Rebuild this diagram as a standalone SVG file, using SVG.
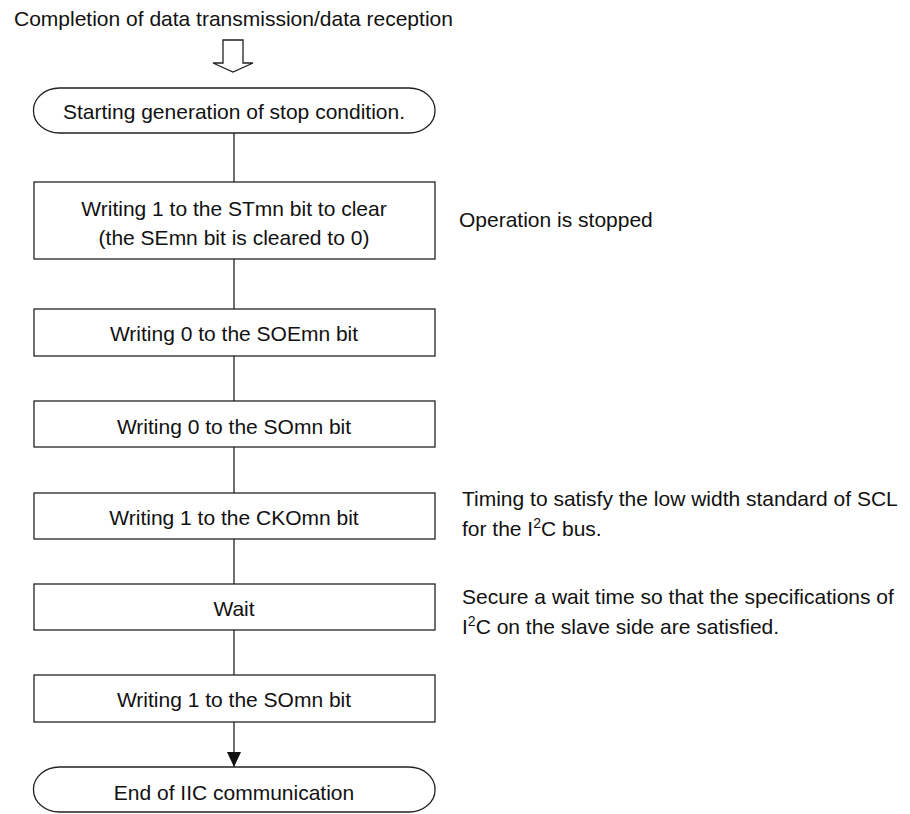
<svg xmlns="http://www.w3.org/2000/svg" width="910" height="814" viewBox="0 0 910 814">
<style>
text{font-family:"Liberation Sans",Arial,sans-serif;font-size:21px;fill:#111}
.c{text-anchor:middle}
.box{fill:#fff;stroke:#222;stroke-width:1.3}
.ln{stroke:#222;stroke-width:1.3;fill:none}
</style>
<defs>
<marker id="ah" markerWidth="15" markerHeight="14" refX="15" refY="7" orient="auto" markerUnits="userSpaceOnUse" viewBox="0 0 15 14">
<path d="M0,0 L15,7 L0,14 Z" fill="#111"/>
</marker>
</defs>
<rect width="910" height="814" fill="#fff"/>
<text id="title" x="14" y="26">Completion of data transmission/data reception</text>
<g id="connectors">
<path class="ln" d="M223,40 L243,40 L243,63 L253,63 L233,72 L213,63 L223,63 Z"/>
<line class="ln" x1="234" y1="133" x2="234" y2="182"/>
<line class="ln" x1="234" y1="259" x2="234" y2="309"/>
<line class="ln" x1="234" y1="356" x2="234" y2="401"/>
<line class="ln" x1="234" y1="447" x2="234" y2="493"/>
<line class="ln" x1="234" y1="539" x2="234" y2="584"/>
<line class="ln" x1="234" y1="630" x2="234" y2="675"/>
<line class="ln" x1="234" y1="722" x2="234" y2="767" marker-end="url(#ah)"/>
</g>
<g id="start">
<rect class="box" x="33.5" y="88" width="401.5" height="45" rx="26" ry="22"/>
<text class="c" x="234" y="119">Starting generation of stop condition.</text>
</g>
<g id="n1">
<rect class="box" x="34" y="182" width="401" height="77"/>
<text class="c" x="234" y="216">Writing 1 to the STmn bit to clear</text>
<text class="c" x="234" y="245">(the SEmn bit is cleared to 0)</text>
</g>
<g id="n2">
<rect class="box" x="34" y="309" width="401" height="47"/>
<text class="c" x="234" y="341">Writing 0 to the SOEmn bit</text>
</g>
<g id="n3">
<rect class="box" x="34" y="401" width="401" height="46"/>
<text class="c" x="234" y="434">Writing 0 to the SOmn bit</text>
</g>
<g id="n4">
<rect class="box" x="34" y="493" width="401" height="46"/>
<text class="c" x="234" y="525">Writing 1 to the CKOmn bit</text>
</g>
<g id="n5">
<rect class="box" x="34" y="584" width="401" height="46"/>
<text class="c" x="234" y="616">Wait</text>
</g>
<g id="n6">
<rect class="box" x="34" y="675" width="401" height="47"/>
<text class="c" x="234" y="707">Writing 1 to the SOmn bit</text>
</g>
<g id="end">
<rect class="box" x="33.5" y="767" width="401.5" height="45" rx="26" ry="22"/>
<text class="c" x="234" y="800">End of IIC communication</text>
</g>
<g id="notes">
<text x="459" y="227">Operation is stopped</text>
<text x="462" y="506">Timing to satisfy the low width standard of SCL</text>
<text x="462" y="536">for the I<tspan font-size="14" dy="-8">2</tspan><tspan dy="8">C bus.</tspan></text>
<text x="462" y="604">Secure a wait time so that the specifications of</text>
<text x="462" y="634">I<tspan font-size="14" dy="-8">2</tspan><tspan dy="8">C on the slave side are satisfied.</tspan></text>
</g>
</svg>
